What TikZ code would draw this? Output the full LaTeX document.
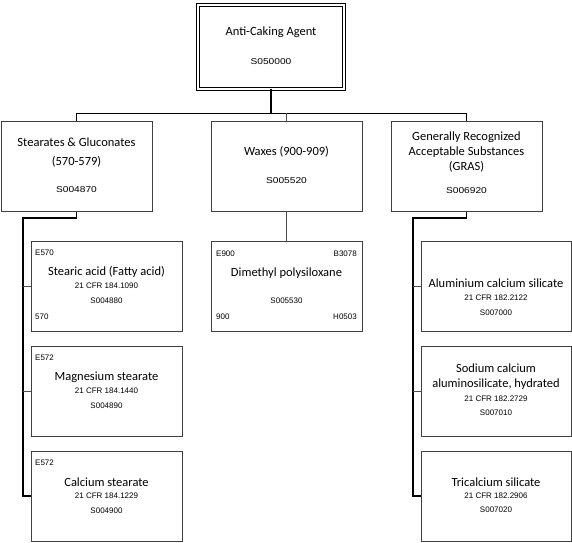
\documentclass[tikz,border=0pt]{standalone}
\usepackage{fontspec}
\setmainfont{Carlito}
\newfontfamily\codefont{Liberation Sans}
\newfontfamily\widecodefont[FakeStretch=1.2]{Liberation Sans}
\usetikzlibrary{positioning}

\begin{document}
\begin{tikzpicture}[x=1pt,y=-1pt,
    box/.style={draw=black!75,line width=1pt,minimum width=151pt,minimum height=90pt,inner sep=0pt},
    title/.style={font=\fontsize{12.5}{15}\selectfont,inner sep=0pt,align=center},
    code/.style={font=\codefont\fontsize{8}{9.5}\selectfont,inner sep=0pt},
    bigcode/.style={font=\widecodefont\fontsize{8.5}{10}\selectfont,inner sep=0pt},
    link/.style={draw=black,line width=0.9pt},
    spine/.style={draw=black,line width=1.2pt}]
  \useasboundingbox (0,0) rectangle (572,542);
  % Draw boxes
  \node[draw=black,double,double distance=2pt,line width=0.8pt,minimum width=146pt,minimum height=84pt] (root) at (271,47) {};
  \node[box] (stearates) at (76.5,166) {};
  \node[box] (waxes) at (286.5,166) {};
  \node[box] (gras) at (466.5,166) {};
  \node[box] (stearic) at (106.5,286) {};
  \node[box] (magnesium) at (106.5,391) {};
  \node[box] (calcium) at (106.5,496) {};
  \node[box] (dimethyl) at (286.5,286) {};
  \node[box,minimum width=150pt] (aluminium) at (496,286) {};
  \node[box,minimum width=150pt] (sodium) at (496,391) {};
  \node[box,minimum width=150pt] (tricalcium) at (496,496) {};
  % Draw connectors
  \coordinate (bus) at (0,113);
  \coordinate (lspine) at (23,218);
  \coordinate (rspine) at (413,218);
  \draw[spine,line width=1.5pt] (root.south) -- (root.south |- bus);
  \draw[link] (stearates.north) |- (gras.north |- bus) -- (gras.north);
  \draw[link,draw=black!70] (waxes.north) -- (waxes.north |- bus);
  \draw[link,draw=black!70] (waxes.south) -- (dimethyl.north);
  \draw[spine] (stearates.south) |- (lspine) -- (lspine |- calcium.west) -- (calcium.west);
  \draw[link,draw=black!70] (lspine |- stearic.west) -- (stearic.west);
  \draw[link,draw=black!70] (lspine |- magnesium.west) -- (magnesium.west);
  \draw[spine] (gras.south) |- (rspine) -- (rspine |- tricalcium.west) -- (tricalcium.west);
  \draw[link,draw=black!70] (rspine |- aluminium.west) -- (aluminium.west);
  \draw[link,draw=black!70] (rspine |- sodium.west) -- (sodium.west);
  % Root and groups
  \node[title] (root-t) at (271,32) {Anti-Caking Agent};
  \node[bigcode] (root-c) at (271,62) {S050000};
  \node[title] (stearates-t) at (76.5,152.5) {Stearates \& Gluconates\\[4pt](570-579)};
  \node[bigcode] (stearates-c) at (76.5,190) {S004870};
  \node[title] (waxes-t) at (286.5,152) {Waxes (900-909)};
  \node[bigcode] (waxes-c) at (286.5,181) {S005520};
  \node[title] (gras-t) at (466.5,152) {Generally Recognized\\Acceptable Substances\\(GRAS)};
  \node[bigcode] (gras-c) at (466.5,191) {S006920};
  % Left column
  \node[code,anchor=west] (stearic-e) at (35,253) {E570};
  \node[title] (stearic-t) at (106.5,272) {Stearic acid (Fatty acid)};
  \node[code] (stearic-r) at (106.5,286) {21 CFR 184.1090};
  \node[code] (stearic-c) at (106.5,301) {S004880};
  \node[code,anchor=west] (stearic-n) at (35,317) {570};
  \node[code,anchor=west] (magnesium-e) at (35,358) {E572};
  \node[title] (magnesium-t) at (106.5,377) {Magnesium stearate};
  \node[code] (magnesium-r) at (106.5,391) {21 CFR 184.1440};
  \node[code] (magnesium-c) at (106.5,406) {S004890};
  \node[code,anchor=west] (calcium-e) at (35,463) {E572};
  \node[title] (calcium-t) at (106.5,482) {Calcium stearate};
  \node[code] (calcium-r) at (106.5,496) {21 CFR 184.1229};
  \node[code] (calcium-c) at (106.5,511) {S004900};
  % Middle column
  \node[code,anchor=west] (dimethyl-e) at (216,254) {E900};
  \node[code,anchor=east] (dimethyl-b) at (357,254) {B3078};
  \node[title] (dimethyl-t) at (286.5,273) {Dimethyl polysiloxane};
  \node[code] (dimethyl-c) at (286.5,301) {S005530};
  \node[code,anchor=west] (dimethyl-n) at (216,317) {900};
  \node[code,anchor=east] (dimethyl-h) at (357,317) {H0503};
  % Right column
  \node[title] (aluminium-t) at (496,283) {Aluminium calcium silicate};
  \node[code] (aluminium-r) at (496,298) {21 CFR 182.2122};
  \node[code] (aluminium-c) at (496,313) {S007000};
  \node[title] (sodium-t) at (496,376.5) {Sodium calcium\\aluminosilicate, hydrated};
  \node[code] (sodium-r) at (496,399) {21 CFR 182.2729};
  \node[code] (sodium-c) at (496,413) {S007010};
  \node[title] (tricalcium-t) at (496,482) {Tricalcium silicate};
  \node[code] (tricalcium-r) at (496,496) {21 CFR 182.2906};
  \node[code] (tricalcium-c) at (496,510) {S007020};
\end{tikzpicture}
\end{document}
